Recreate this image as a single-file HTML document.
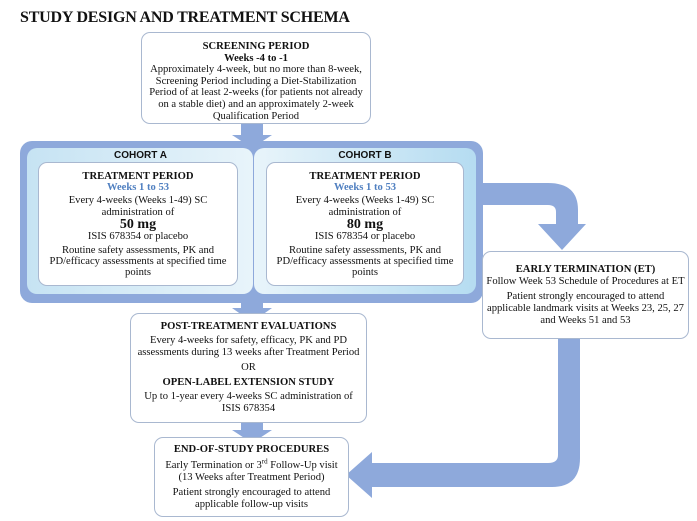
<!DOCTYPE html>
<html><head><meta charset="utf-8"><style>
body{margin:0;width:697px;height:521px;background:#fff;position:relative;overflow:hidden;font-family:"Liberation Serif",serif;color:#111}
.t{position:absolute;left:20px;top:9px;font-size:16px;font-weight:bold;letter-spacing:-0.2px}
.box{position:absolute;background:#fff;border:1px solid #a9b8d0;border-radius:9px;text-align:center;font-size:10.6px;line-height:12px;box-sizing:border-box}
.b{font-weight:bold}
.blue{color:#4f7fc0;font-weight:bold}
p{margin:0}
.nw p{white-space:nowrap}
.coh{position:absolute;font-family:"Liberation Sans",sans-serif;font-weight:bold;font-size:10px;text-align:center}
</style></head><body>
<svg width="697" height="521" style="position:absolute;left:0;top:0">
<defs>
<linearGradient id="ga" x1="0" x2="1"><stop offset="0" stop-color="#c6e3f3"/><stop offset="1" stop-color="#e8f4fa"/></linearGradient>
<linearGradient id="gb" x1="0" x2="1"><stop offset="0" stop-color="#e8f4fa"/><stop offset="1" stop-color="#b5dcf1"/></linearGradient>
</defs>
<path d="M470 183 L548 183 Q578 183 578 210 L578 224 L586 224 L562 250 L538 224 L556 224 L556 212 Q556 205 548 205 L470 205 Z" fill="#8ea9db"/>
<path d="M558 338 L580 338 L580 458 Q580 487 552 487 L372 487 L372 498 L346 475 L372 452 L372 463 L548 463 Q558 463 558 455 Z" fill="#8ea9db"/>
<path d="M241 124 L263 124 L263 135 L272 135 L252 148 L232 135 L241 135 Z" fill="#8ea9db"/>
<path d="M241 300 L263 300 L263 308 L272 308 L252 322 L232 308 L241 308 Z" fill="#8ea9db"/>
<path d="M241 422 L263 422 L263 430 L272 430 L252 443 L232 430 L241 430 Z" fill="#8ea9db"/>
<rect x="20" y="141" width="463" height="162" rx="12" fill="#8ea9db"/>
<rect x="27" y="148" width="226" height="146" rx="10" fill="url(#ga)"/>
<rect x="254" y="148" width="222" height="146" rx="10" fill="url(#gb)"/>
</svg>
<div class="t">STUDY DESIGN AND TREATMENT SCHEMA</div>
<div class="box" style="left:141px;top:32px;width:230px;height:92px;padding:8px 4px 0;line-height:11.6px">
<p class="b">SCREENING PERIOD<br>Weeks -4 to -1</p>
<p>Approximately 4-week, but no more than 8-week, Screening Period including a Diet-Stabilization Period of at least 2-weeks (for patients not already on a stable diet) and an approximately 2-week Qualification Period</p></div>
<div class="coh" style="left:28px;top:150px;width:225px">COHORT A</div>
<div class="coh" style="left:254px;top:150px;width:222px">COHORT B</div>
<div class="box" style="left:38px;top:162px;width:200px;height:124px;padding:8px 6px 0;line-height:11.2px">
<p class="b">TREATMENT PERIOD</p><p class="blue">Weeks 1 to 53</p>
<p style="margin-top:2px">Every 4-weeks (Weeks 1-49) SC<br>administration of</p>
<p class="b" style="font-size:14px;line-height:13px">50 mg</p><p>ISIS 678354 or placebo</p>
<p style="margin-top:3px">Routine safety assessments, PK and<br>PD/efficacy assessments at specified time<br>points</p></div>
<div class="box" style="left:266px;top:162px;width:198px;height:124px;padding:8px 6px 0;line-height:11.2px">
<p class="b">TREATMENT PERIOD</p><p class="blue">Weeks 1 to 53</p>
<p style="margin-top:2px">Every 4-weeks (Weeks 1-49) SC<br>administration of</p>
<p class="b" style="font-size:14px;line-height:13px">80 mg</p><p>ISIS 678354 or placebo</p>
<p style="margin-top:3px">Routine safety assessments, PK and<br>PD/efficacy assessments at specified time<br>points</p></div>
<div class="box nw" style="left:482px;top:251px;width:207px;height:88px;padding:12px 0 0">
<p class="b">EARLY TERMINATION (ET)</p><p>Follow Week 53 Schedule of Procedures at ET</p>
<p style="margin-top:3px">Patient strongly encouraged to attend<br>applicable landmark visits at Weeks 23, 25, 27<br>and Weeks 51 and 53</p></div>
<div class="box nw" style="left:130px;top:313px;width:237px;height:110px;padding:7px 0 0">
<p class="b">POST-TREATMENT EVALUATIONS</p>
<p style="margin-top:2px">Every 4-weeks for safety, efficacy, PK and PD<br>assessments during 13 weeks after Treatment Period</p>
<p style="margin-top:3px">OR</p><p class="b" style="margin-top:3px">OPEN-LABEL EXTENSION STUDY</p>
<p style="margin-top:2px">Up to 1-year every 4-weeks SC administration of<br>ISIS 678354</p></div>
<div class="box nw" style="left:154px;top:437px;width:195px;height:80px;padding:6px 0 0">
<p class="b">END-OF-STUDY PROCEDURES</p>
<p style="margin-top:4px">Early Termination or 3<sup style="font-size:7px;line-height:0">rd</sup> Follow-Up visit<br>(13 Weeks after Treatment Period)</p>
<p style="margin-top:3px">Patient strongly encouraged to attend<br>applicable follow-up visits</p></div>
</body></html>
